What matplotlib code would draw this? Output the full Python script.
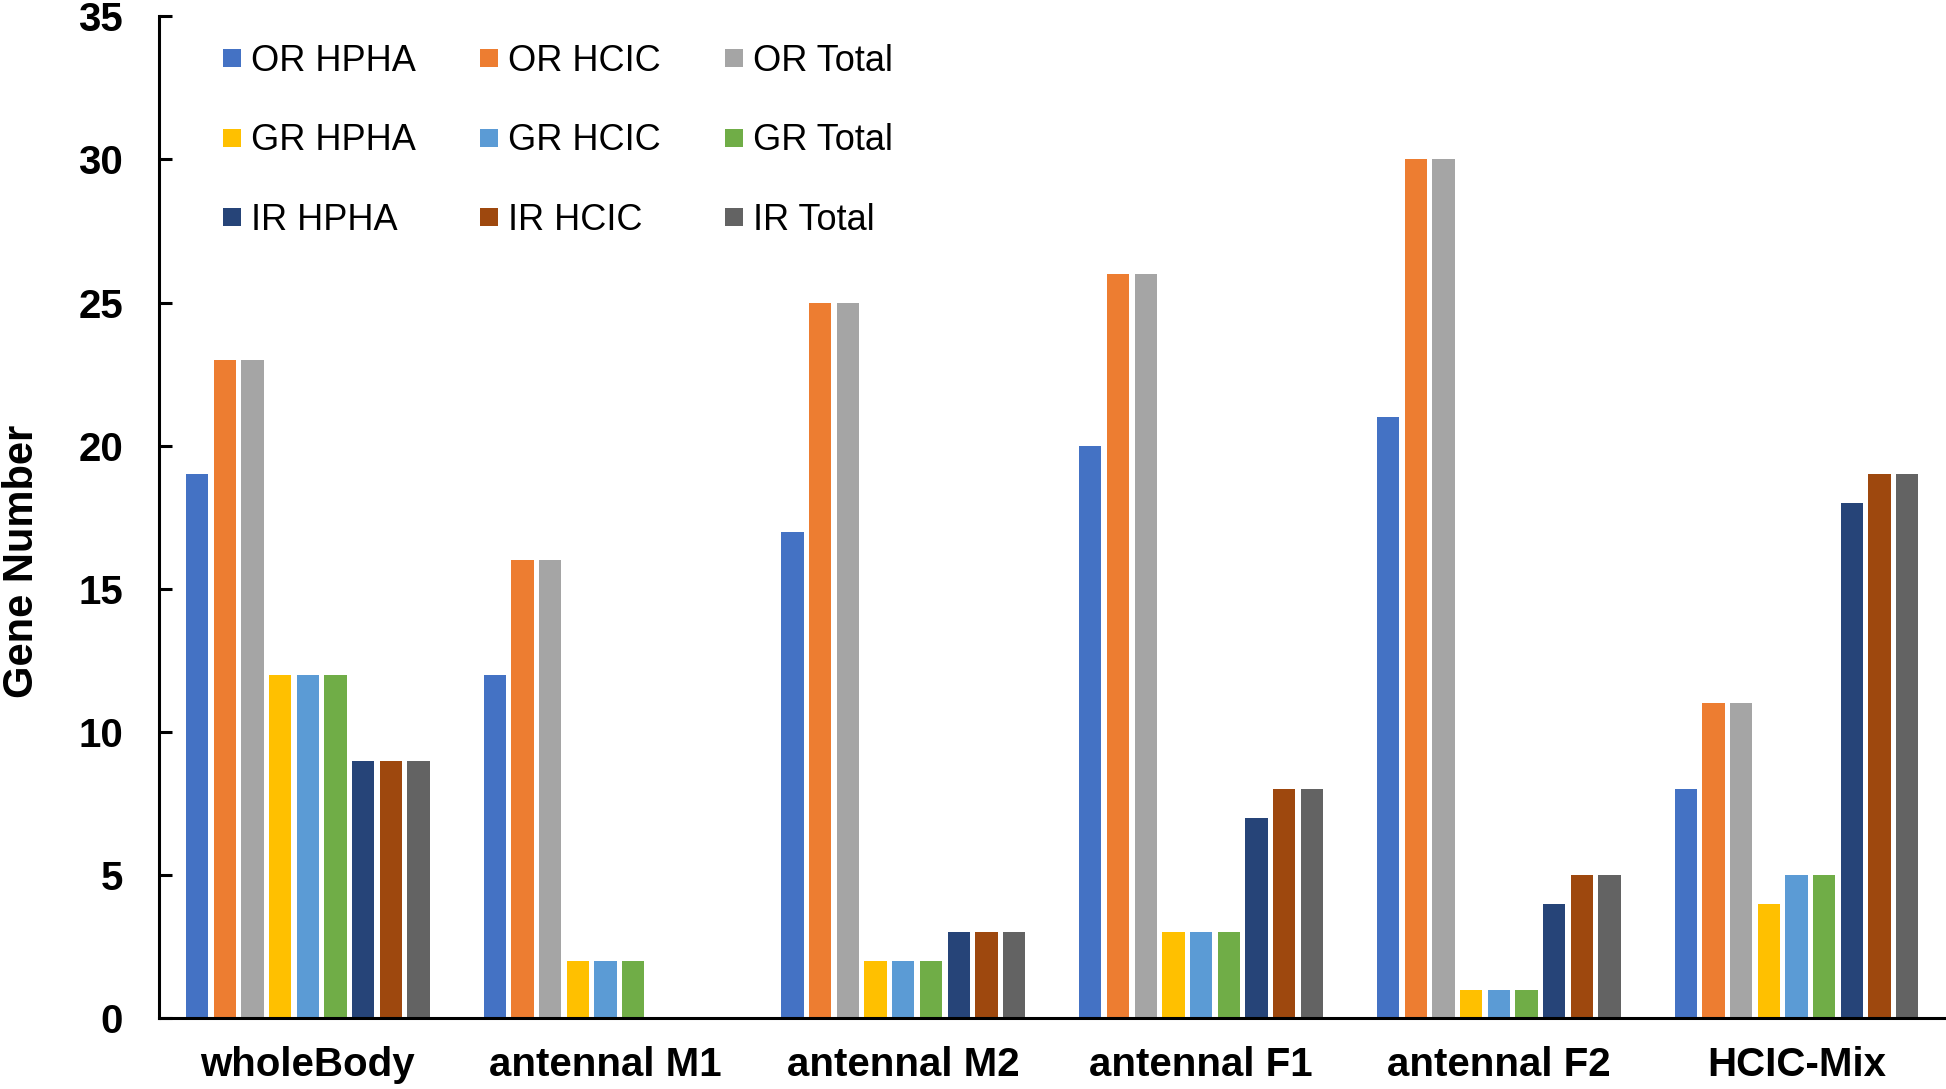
import numpy as np
import matplotlib.pyplot as plt
from matplotlib.lines import Line2D

plt.rcParams['font.family'] = ['Liberation Sans', 'DejaVu Sans']

categories = ["wholeBody", "antennal M1", "antennal M2", "antennal F1", "antennal F2", "HCIC-Mix"]
series = ["OR HPHA", "OR HCIC", "OR Total",
          "GR HPHA", "GR HCIC", "GR Total",
          "IR HPHA", "IR HCIC", "IR Total"]
colors = ["#4472C4", "#ED7D31", "#A5A5A5",
          "#FFC000", "#5B9BD5", "#70AD47",
          "#264478", "#9E480E", "#636363"]

or_hpha = [19, 12, 17, 20, 21, 8]
or_hcic = [23, 16, 25, 26, 30, 11]
or_total = [23, 16, 25, 26, 30, 11]
gr_hpha = [12, 2, 2, 3, 1, 4]
gr_hcic = [12, 2, 2, 3, 1, 5]
gr_total = [12, 2, 2, 3, 1, 5]
ir_hpha = [9, 0, 3, 7, 4, 18]
ir_hcic = [9, 0, 3, 8, 5, 19]
ir_total = [9, 0, 3, 8, 5, 19]

values = [or_hpha, or_hcic, or_total, gr_hpha, gr_hcic, gr_total, ir_hpha, ir_hcic, ir_total]

fig = plt.figure(figsize=(19.46, 10.89), dpi=100)
ax = fig.add_axes([0.0817, 0.065, 0.918, 0.92])

x = np.arange(len(categories))
pitch = 0.093
width = 0.075
for i, (vals, c) in enumerate(zip(values, colors)):
    ax.bar(x + (i - 4) * pitch, vals, width, color=c, label=series[i])

ax.set_xlim(-0.5, 5.5)
ax.set_ylim(0, 35)
ax.set_yticks(range(0, 36, 5))
ax.set_xticks(x)
ax.set_xticklabels(categories, fontsize=29, fontweight='bold')
ax.tick_params(axis='x', length=0, pad=20)
ax.tick_params(axis='y', direction='in', length=9, width=2.2, pad=26, labelsize=29)
for lab in ax.get_yticklabels():
    lab.set_fontweight('bold')

ax.spines['top'].set_visible(False)
ax.spines['right'].set_visible(False)
ax.spines['left'].set_linewidth(2.2)
ax.spines['bottom'].set_linewidth(2.2)

ax.set_ylabel('Gene Number', fontsize=30, fontweight='bold')
ax.yaxis.set_label_coords(-0.0655, 0.456)

# legend filled column-wise, so order HPHA / HCIC / Total columns
order = [0, 3, 6, 1, 4, 7, 2, 5, 8]
handles = [Line2D([], [], linestyle='none', marker='s', markersize=13.5,
                  markerfacecolor=colors[k], markeredgewidth=0) for k in order]
labels = [series[k] for k in order]
fig.legend(handles, labels, ncol=3, loc='upper left', bbox_to_anchor=(0.114, 0.96),
           frameon=False, fontsize=26, handlelength=0.55, handletextpad=0.25,
           columnspacing=1.75, labelspacing=1.24, borderpad=0, borderaxespad=0)

plt.savefig("out.png", dpi=100)
